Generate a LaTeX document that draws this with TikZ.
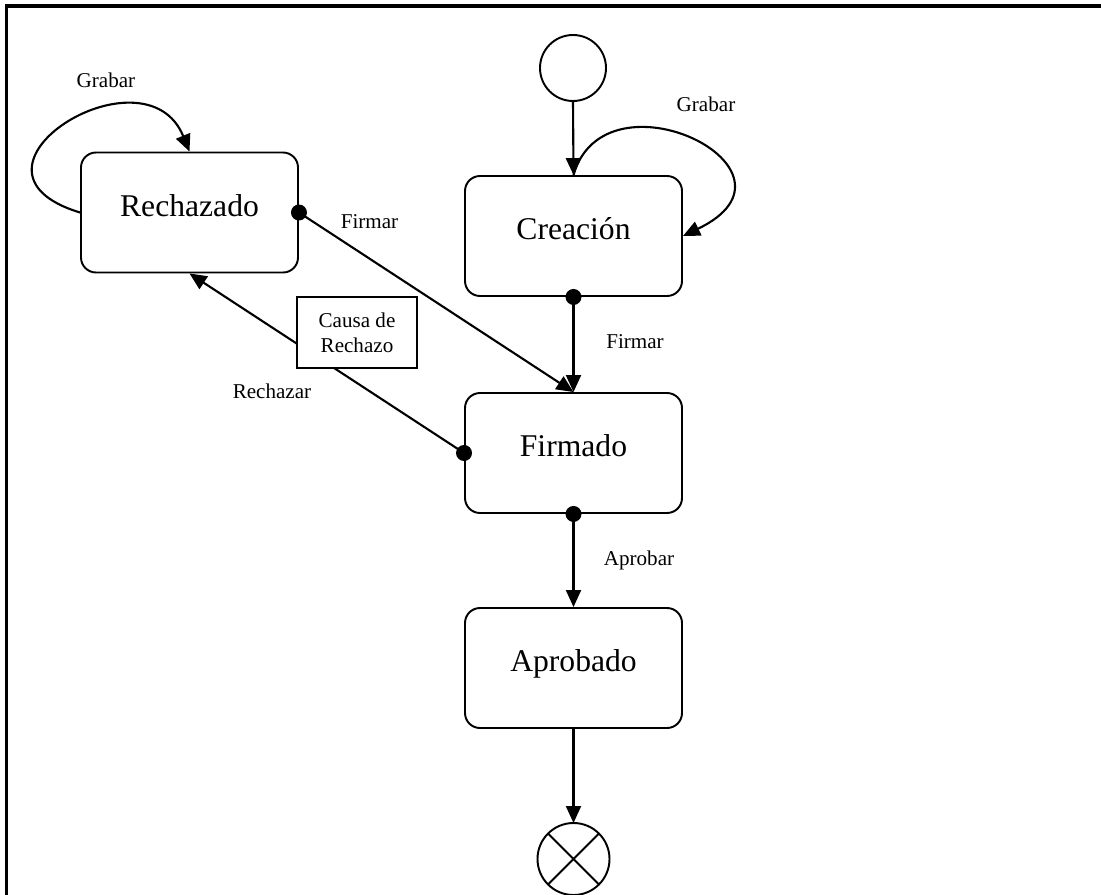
\documentclass[tikz,border=0pt]{standalone}
\usepackage{fontspec}
\setmainfont{Liberation Serif}
\usetikzlibrary{arrows.meta}

\begin{document}
\begin{tikzpicture}[
		estado/.style={draw, line width=1.1pt, rounded corners=0.3cm, minimum width=4.34cm, minimum height=2.4cm, text height=0.42cm, text depth=0.28cm, font=\fontsize{18}{20}\selectfont},
		etiqueta/.style={font=\fontsize{12}{14}\selectfont},
		nota/.style={draw, fill=white, line width=1.1pt, minimum width=2.4cm, minimum height=1.42cm, align=center, font=\fontsize{12}{14.2}\selectfont},
		flecha/.style={line width=1.2pt, -{Triangle[length=3.4mm, width=3mm]}},
		pseudo/.style={draw, circle, line width=1.1pt, outer sep=0pt}
	]
	\useasboundingbox (0,0) rectangle (22.02,-17.9);
	% marco
	\draw[line width=0.07cm] (0.13,-17.95) -- (0.13,-0.12) -- (22.1,-0.12);

	% estados
	\node[pseudo, minimum size=1.32cm] (ini) at (11.46,-1.36) {};
	\node[estado] (crea) at (11.47,-4.72) {Creación};
	\node[estado] (rech) at (3.79,-4.25) {Rechazado};
	\node[estado] (firm) at (11.47,-9.06) {Firmado};
	\node[estado] (apro) at (11.47,-13.36) {Aprobado};
	\node[pseudo, minimum size=1.44cm] (fin) at (11.47,-17.18) {};
	\draw[line width=1.1pt] (fin.north west) -- (fin.south east)
		(fin.north east) -- (fin.south west);

	% transiciones
	\draw[flecha] (ini.south) -- (crea.north);
	\draw[flecha] (crea.south) -- (firm.north);
	\draw[flecha] (firm.south) -- (apro.north);
	\draw[flecha] (apro.south) -- (fin.north);
	\draw[flecha] (rech.east) -- (firm.north);
	\draw[flecha] (firm.west) -- (rech.south);
	\draw[flecha] (crea.north) .. controls (12.1,-1.3) and (16.4,-3.4) .. (crea.east);
	\draw[flecha] (rech.west) .. controls (-1.2,-3.4) and (2.9,-0.85) .. (rech.north);
	\fill (crea.south) circle (0.16)
		(firm.south) circle (0.16)
		(firm.west) circle (0.16)
		(rech.east) circle (0.16);

	\node[nota] (causa) at (7.14,-6.65) {Causa de\\Rechazo};

	% etiquetas
	\node[etiqueta] (lblGrabarR) at (2.12,-1.6) {Grabar};
	\node[etiqueta] (lblGrabarC) at (14.12,-2.08) {Grabar};
	\node[etiqueta] (lblFirmarR) at (7.39,-4.44) {Firmar};
	\node[etiqueta] (lblFirmarC) at (12.70,-6.84) {Firmar};
	\node[etiqueta] (lblRechazar) at (5.44,-7.82) {Rechazar};
	\node[etiqueta] (lblAprobar) at (12.78,-11.2) {Aprobar};
\end{tikzpicture}
\end{document}
